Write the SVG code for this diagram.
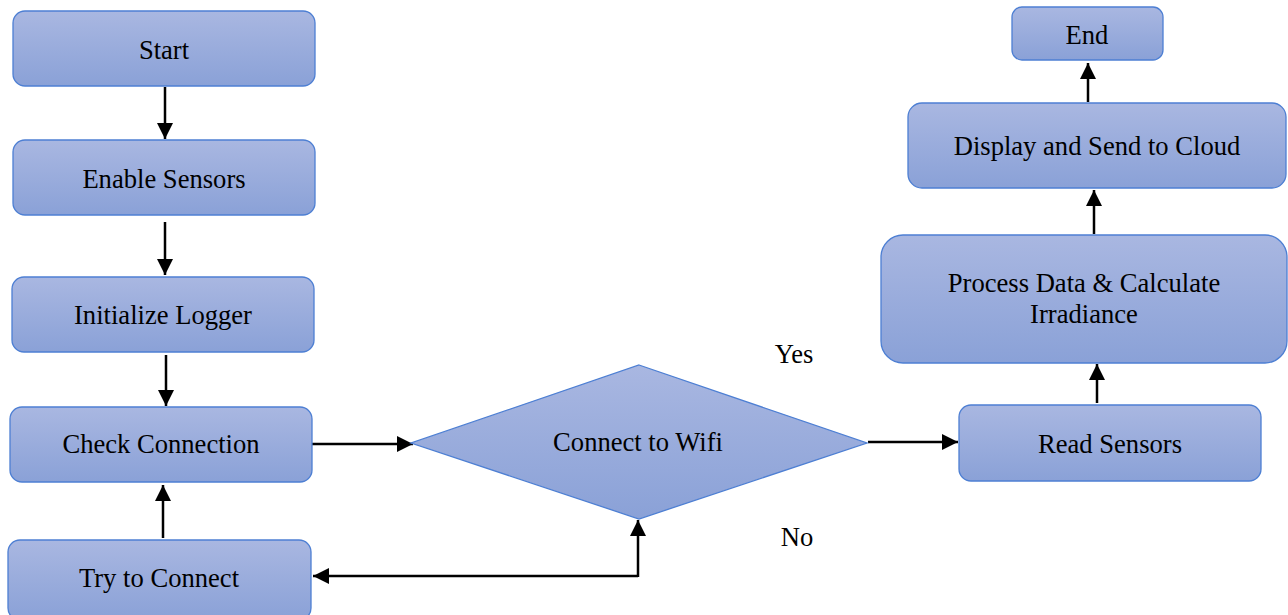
<svg xmlns="http://www.w3.org/2000/svg" width="1288" height="615" viewBox="0 0 1288 615">
  <style>
    .box { fill: url(#boxFill); stroke: #4d7fd3; stroke-width: 1.3; }
    .lbl { font-family: "Liberation Serif", "Times New Roman", serif; font-size: 26.6px; fill: #000; text-anchor: middle; }
    .edge { fill: none; stroke: #000; stroke-width: 2.5; marker-end: url(#arrow); }
  </style>
  <defs>
    <linearGradient id="boxFill" x1="0" y1="0" x2="0" y2="1">
      <stop offset="0" stop-color="#a9b7e1"/>
      <stop offset="1" stop-color="#8aa1d7"/>
    </linearGradient>
    <marker id="arrow" viewBox="0 0 10 10" refX="10" refY="5" markerWidth="16" markerHeight="16" markerUnits="userSpaceOnUse" orient="auto">
      <path d="M0,0 L10,5 L0,10 Z" fill="#000"/>
    </marker>
  </defs>

  <!-- flow arrows -->
  <g id="connectors">
    <line class="edge" x1="165" y1="87" x2="165" y2="139"/>
    <line class="edge" x1="165" y1="222" x2="165" y2="275"/>
    <line class="edge" x1="166" y1="355" x2="166" y2="406"/>
    <line class="edge" x1="312" y1="444" x2="413" y2="444"/>
    <line class="edge" x1="163" y1="538" x2="163" y2="485"/>
    <polyline class="edge" points="638,576 313,576"/>
    <line class="edge" x1="638" y1="577" x2="638" y2="520"/>
    <line class="edge" x1="868" y1="442" x2="958" y2="442"/>
    <line class="edge" x1="1097" y1="403" x2="1097" y2="364"/>
    <line class="edge" x1="1094" y1="234" x2="1094" y2="190"/>
    <line class="edge" x1="1088" y1="102" x2="1088" y2="63"/>
  </g>

  <g id="start">
    <rect class="box" x="13" y="11" width="302" height="75" rx="12"/>
    <text class="lbl" x="164" y="59">Start</text>
  </g>
  <g id="enable-sensors">
    <rect class="box" x="13" y="140" width="302" height="75" rx="12"/>
    <text class="lbl" x="164" y="188">Enable Sensors</text>
  </g>
  <g id="initialize-logger">
    <rect class="box" x="12" y="277" width="302" height="75" rx="12"/>
    <text class="lbl" x="163" y="324">Initialize Logger</text>
  </g>
  <g id="check-connection">
    <rect class="box" x="10" y="407" width="302" height="75" rx="12"/>
    <text class="lbl" x="161" y="453">Check Connection</text>
  </g>
  <g id="try-to-connect">
    <rect class="box" x="8" y="540" width="303" height="80" rx="12"/>
    <text class="lbl" x="159" y="587">Try to Connect</text>
  </g>
  <g id="connect-wifi">
    <polygon class="box" points="639,365 867,443 639,519 411,443"/>
    <text class="lbl" x="638" y="451">Connect to Wifi</text>
  </g>
  <g id="read-sensors">
    <rect class="box" x="959" y="405" width="302" height="76" rx="12"/>
    <text class="lbl" x="1110" y="453">Read Sensors</text>
  </g>
  <g id="process-data">
    <rect class="box" x="881" y="235" width="406" height="128" rx="22"/>
    <text class="lbl" x="1084" y="292">Process Data &amp; Calculate</text>
    <text class="lbl" x="1084" y="323">Irradiance</text>
  </g>
  <g id="display-send">
    <rect class="box" x="908" y="103" width="378" height="85" rx="14"/>
    <text class="lbl" x="1097" y="155">Display and Send to Cloud</text>
  </g>
  <g id="end">
    <rect class="box" x="1012" y="7" width="151" height="53" rx="10"/>
    <text class="lbl" x="1087" y="44">End</text>
  </g>

  <g id="branch-labels">
    <text class="lbl" x="794" y="363">Yes</text>
    <text class="lbl" x="797" y="546">No</text>
  </g>
</svg>
